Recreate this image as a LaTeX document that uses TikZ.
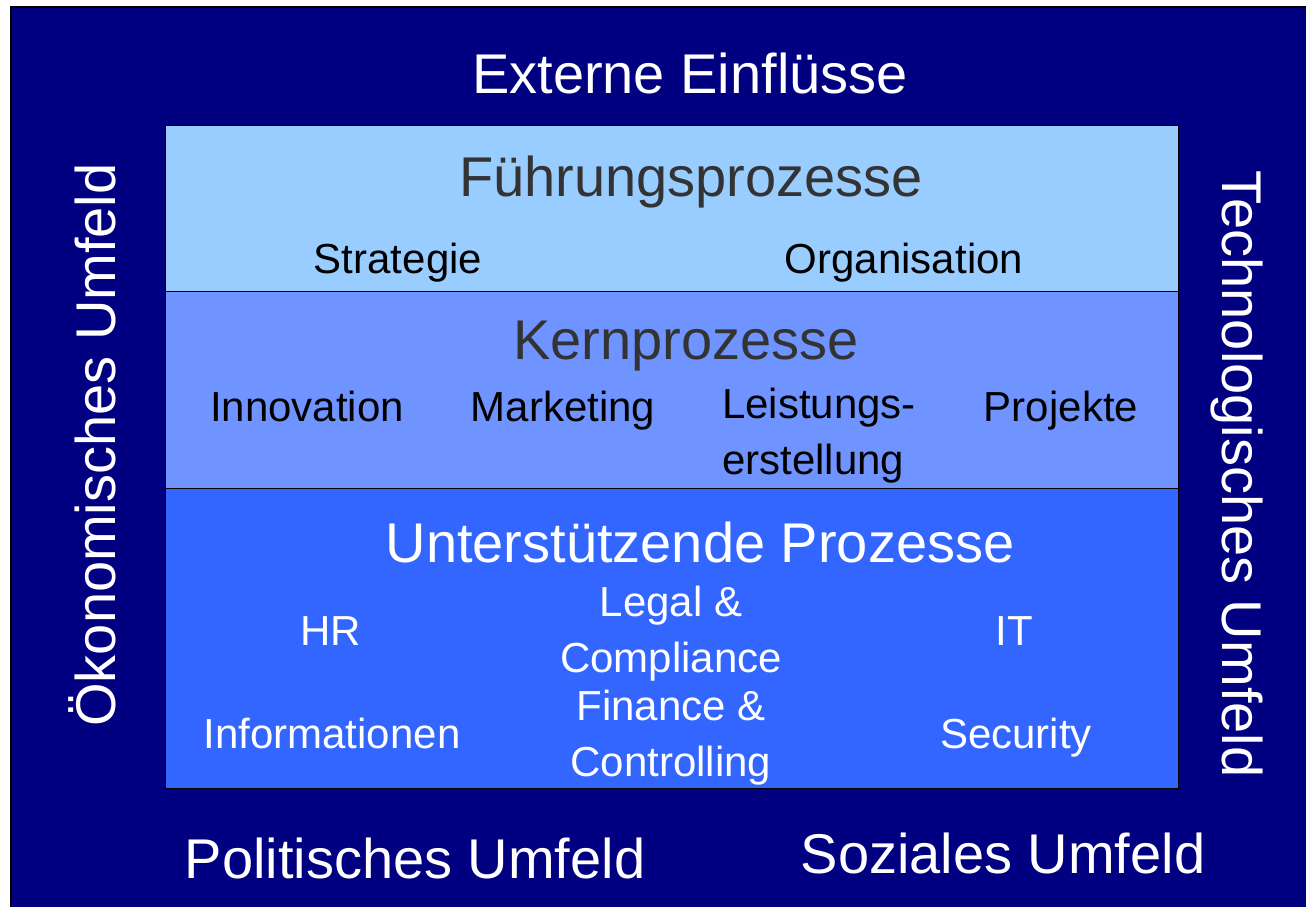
\documentclass[tikz,border=0pt]{standalone}
\usepackage{fontspec}
\setmainfont{Liberation Sans}
\definecolor{navy}{HTML}{000080}
\definecolor{fuehrung}{HTML}{99CCFF}
\definecolor{kern}{HTML}{6F93FF}
\definecolor{support}{HTML}{3366FF}
\definecolor{headgray}{HTML}{333333}
\tikzset{
    outer/.style={text=white,font=\fontsize{56}{60}\selectfont,anchor=base},
    head/.style={font=\fontsize{56}{60}\selectfont,anchor=base},
    item/.style={font=\fontsize{42}{56}\selectfont,anchor=base,inner sep=0pt},
}
\begin{document}
\begin{tikzpicture}[x=1pt,y=-1pt]
    \useasboundingbox (0,0) rectangle (1306,907);

    % Background
    \draw [fill=navy,line width=1.5pt] (11,7) rectangle (1310,911);

    % Process bands
    \draw [fill=fuehrung,line width=1pt] (165,125) rectangle (1178,291);
    \draw [fill=kern,line width=1pt] (165,291) rectangle (1178,488);
    \draw [fill=support,line width=1pt] (165,488) rectangle (1178,788);

    % Outer labels
    \node (extern) at (690,93) [outer] {Externe Einflüsse};
    \node (politik) at (415,878) [outer] {Politisches Umfeld};
    \node (sozial) at (1003,873) [outer] {Soziales Umfeld};
    \node (oekonom) at (115,445) [outer,rotate=90] {Ökonomisches Umfeld};
    \node (technik) at (1222,474) [outer,rotate=-90] {Technologisches Umfeld};

    % Fuehrungsprozesse
    \node (fuehrung) at (691,196) [head,text=headgray] {Führungsprozesse};
    \node (strategie) at (398,273) [item] {Strategie};
    \node (organisation) at (904,273) [item] {Organisation};

    % Kernprozesse
    \node (kern) at (686,359) [head,text=headgray] {Kernprozesse};
    \node (innovation) at (307,421) [item] {Innovation};
    \node (marketing) at (563,421) [item] {Marketing};
    \node (leistung) at (722,474) [item,anchor=base west,align=left] {Leistungs-\\erstellung};
    \node (projekte) at (1061,421) [item] {Projekte};

    % Unterstuetzende Prozesse
    \node (support) at (700,562) [head,text=white] {Unterstützende Prozesse};
    \node (hr) at (331,645) [item,text=white] {HR};
    \node (legal) at (671,672) [item,text=white,align=center] {Legal \&\\Compliance};
    \node (it) at (1014,645) [item,text=white] {IT};
    \node (info) at (332,748) [item,text=white] {Informationen};
    \node (finance) at (671,776) [item,text=white,align=center] {Finance \&\\Controlling};
    \node (security) at (1016,748) [item,text=white] {Security};
\end{tikzpicture}
\end{document}
